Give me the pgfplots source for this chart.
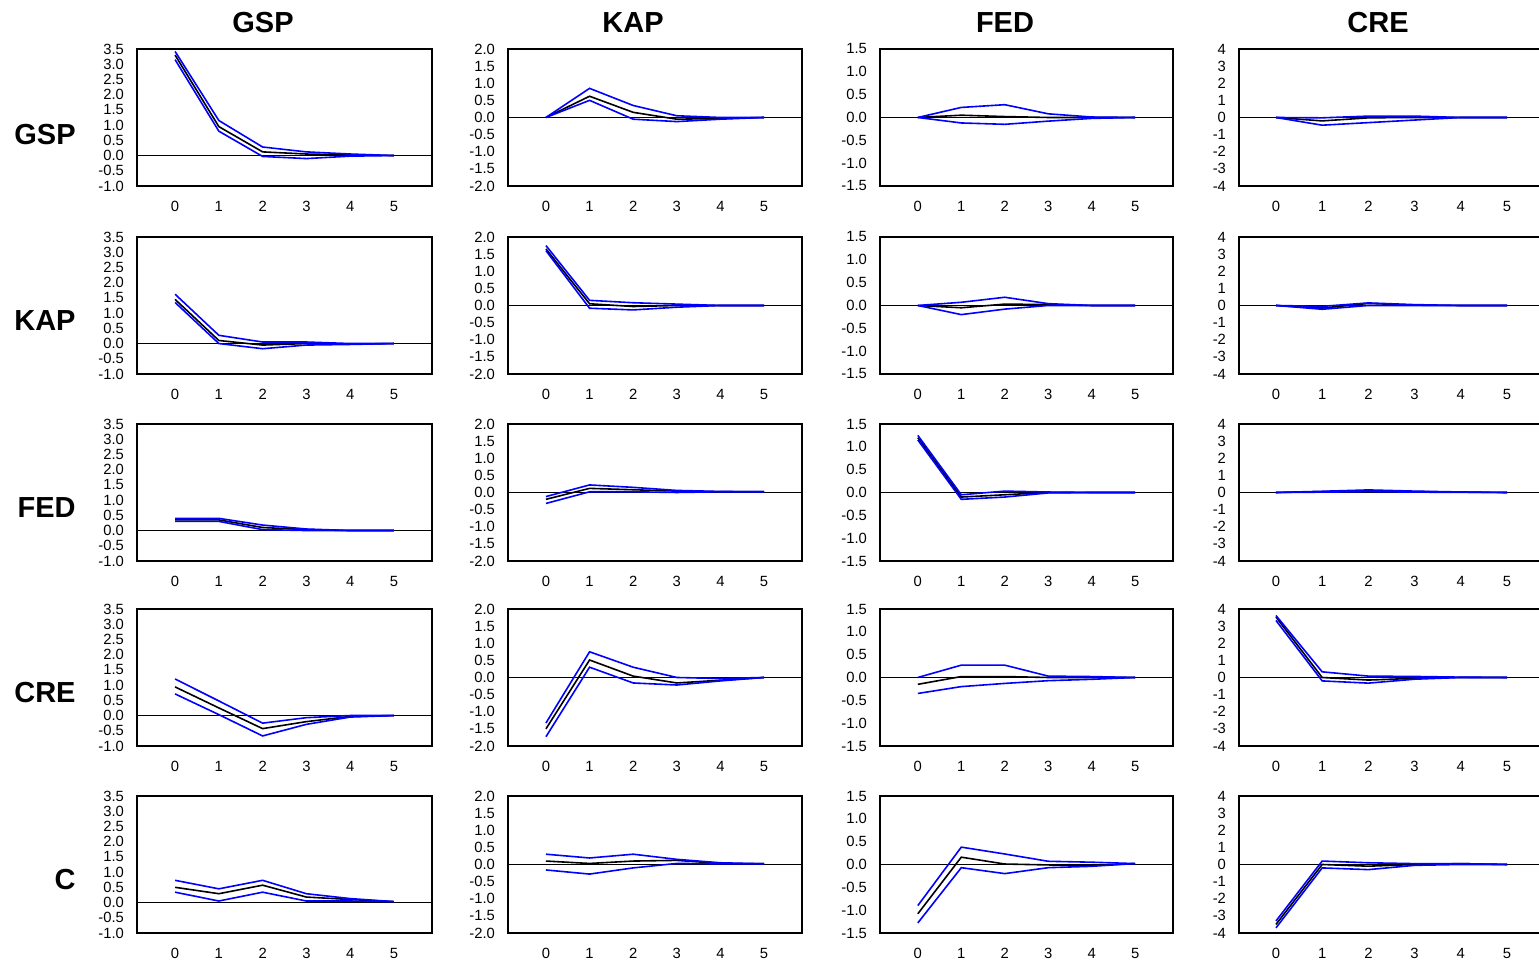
\documentclass[border=0pt]{standalone}
\usepackage{pgfplots}
\pgfplotsset{compat=1.18}
\usepackage{fontspec}
\setmainfont{Liberation Sans}
\pgfplotsset{
 irf/.style={scale only axis, anchor=north west, height=68.5pt,
   xmin=-0.87, xmax=5.87, xtick={0,1,2,3,4,5},
   major tick length=0pt, axis line style={line width=0.85pt},
   tick label style={font=\fontsize{7.4}{8}\selectfont},
   /pgf/number format/assume math mode=true,
   xticklabel style={yshift=-4pt}, yticklabel style={xshift=-3pt},
   clip=true,
   every axis plot/.append style={line width=0.8pt, mark=none}},
 c1/.style={at={(68.5pt,#1)}, width=147.5pt, ymin=-1, ymax=3.5,
   ytick={-1,-0.5,0,0.5,1,1.5,2,2.5,3,3.5},
   yticklabel style={/pgf/number format/.cd, fixed, fixed zerofill, precision=1}},
 c2/.style={at={(254pt,#1)}, width=147pt, ymin=-2, ymax=2,
   ytick={-2,-1.5,-1,-0.5,0,0.5,1,1.5,2},
   yticklabel style={/pgf/number format/.cd, fixed, fixed zerofill, precision=1}},
 c3/.style={at={(440pt,#1)}, width=146.5pt, ymin=-1.5, ymax=1.5,
   ytick={-1.5,-1,-0.5,0,0.5,1,1.5},
   yticklabel style={/pgf/number format/.cd, fixed, fixed zerofill, precision=1}},
 c4/.style={at={(619.5pt,#1)}, width=152.5pt, xmin=-0.8, xmax=5.8, ymin=-4, ymax=4,
   ytick={-4,-3,-2,-1,0,1,2,3,4}},
}
\newcommand\zl{\addplot[black] coordinates {(-1,0) (7,0)};}
\begin{document}
\begin{tikzpicture}
\useasboundingbox (0,0) rectangle (769.5pt,480.5pt);
% column titles
\foreach \t/\x in {GSP/131.5,KAP/316.5,FED/502.5,CRE/689}
  \node[font=\bfseries\fontsize{14.5}{16}\selectfont, inner sep=0] at (\x pt,469pt) {\t};
% row labels
\foreach \t/\y in {GSP/413,KAP/320,FED/226.5,CRE/134,C/40.5}
  \node[font=\bfseries\fontsize{14.5}{16}\selectfont, anchor=east, inner sep=0] at (38pt,\y pt) {\t};

% ---------- Row 1 ----------
\begin{axis}[irf, c1=456pt]
\zl
\addplot[black] coordinates {(0,3.3)(1,0.95)(2,0.12)(3,0.05)(4,0.02)(5,0)};
\addplot[blue] coordinates {(0,3.42)(1,1.15)(2,0.28)(3,0.12)(4,0.05)(5,0)};
\addplot[blue] coordinates {(0,3.15)(1,0.8)(2,-0.03)(3,-0.1)(4,-0.02)(5,0)};
\end{axis}
\begin{axis}[irf, c2=456pt]
\zl
\addplot[black] coordinates {(0,0)(1,0.62)(2,0.15)(3,-0.05)(4,-0.03)(5,0)};
\addplot[blue] coordinates {(0,0)(1,0.85)(2,0.35)(3,0.05)(4,0)(5,0)};
\addplot[blue] coordinates {(0,0)(1,0.5)(2,-0.05)(3,-0.12)(4,-0.05)(5,0)};
\end{axis}
\begin{axis}[irf, c3=456pt]
\zl
\addplot[black] coordinates {(0,0)(1,0.05)(2,0.02)(3,0)(4,0)(5,0)};
\addplot[blue] coordinates {(0,0)(1,0.22)(2,0.28)(3,0.08)(4,0.01)(5,0)};
\addplot[blue] coordinates {(0,0)(1,-0.12)(2,-0.15)(3,-0.08)(4,-0.02)(5,0)};
\end{axis}
\begin{axis}[irf, c4=456pt]
\zl
\addplot[black] coordinates {(0,0)(1,-0.2)(2,-0.02)(3,0)(4,0)(5,0)};
\addplot[blue] coordinates {(0,0)(1,-0.02)(2,0.08)(3,0.08)(4,0)(5,0)};
\addplot[blue] coordinates {(0,0)(1,-0.45)(2,-0.3)(3,-0.15)(4,0)(5,0)};
\end{axis}

% ---------- Row 2 ----------
\begin{axis}[irf, c1=362pt]
\zl
\addplot[black] coordinates {(0,1.45)(1,0.1)(2,-0.05)(3,0)(4,-0.02)(5,0)};
\addplot[blue] coordinates {(0,1.62)(1,0.27)(2,0.05)(3,0.05)(4,0)(5,0)};
\addplot[blue] coordinates {(0,1.35)(1,0)(2,-0.17)(3,-0.05)(4,-0.03)(5,0)};
\end{axis}
\begin{axis}[irf, c2=362pt]
\zl
\addplot[black] coordinates {(0,1.65)(1,0.05)(2,-0.03)(3,0)(4,0)(5,0)};
\addplot[blue] coordinates {(0,1.75)(1,0.15)(2,0.08)(3,0.04)(4,0)(5,0)};
\addplot[blue] coordinates {(0,1.6)(1,-0.08)(2,-0.13)(3,-0.05)(4,0)(5,0)};
\end{axis}
\begin{axis}[irf, c3=362pt]
\zl
\addplot[black] coordinates {(0,0)(1,-0.05)(2,0.03)(3,0.02)(4,0)(5,0)};
\addplot[blue] coordinates {(0,0)(1,0.07)(2,0.18)(3,0.04)(4,0)(5,0)};
\addplot[blue] coordinates {(0,0)(1,-0.2)(2,-0.08)(3,0)(4,0)(5,0)};
\end{axis}
\begin{axis}[irf, c4=362pt]
\zl
\addplot[black] coordinates {(0,0)(1,-0.15)(2,0.12)(3,0.02)(4,0)(5,0)};
\addplot[blue] coordinates {(0,0)(1,-0.05)(2,0.15)(3,0.05)(4,0)(5,0)};
\addplot[blue] coordinates {(0,0)(1,-0.22)(2,0)(3,0)(4,0)(5,0)};
\end{axis}

% ---------- Row 3 ----------
\begin{axis}[irf, c1=268.5pt]
\zl
\addplot[black] coordinates {(0,0.35)(1,0.35)(2,0.1)(3,0.03)(4,0)(5,0)};
\addplot[blue] coordinates {(0,0.4)(1,0.4)(2,0.18)(3,0.05)(4,0)(5,0)};
\addplot[blue] coordinates {(0,0.3)(1,0.3)(2,0.03)(3,0)(4,0)(5,0)};
\end{axis}
\begin{axis}[irf, c2=268.5pt]
\zl
\addplot[black] coordinates {(0,-0.2)(1,0.12)(2,0.08)(3,0.04)(4,0.02)(5,0.02)};
\addplot[blue] coordinates {(0,-0.12)(1,0.22)(2,0.15)(3,0.06)(4,0.03)(5,0.02)};
\addplot[blue] coordinates {(0,-0.32)(1,0.02)(2,0.02)(3,0)(4,0.02)(5,0.02)};
\end{axis}
\begin{axis}[irf, c3=268.5pt]
\zl
\addplot[black] coordinates {(0,1.2)(1,-0.1)(2,-0.05)(3,0)(4,0)(5,0)};
\addplot[blue] coordinates {(0,1.25)(1,-0.05)(2,0.03)(3,0.01)(4,0)(5,0)};
\addplot[blue] coordinates {(0,1.15)(1,-0.15)(2,-0.1)(3,-0.01)(4,0)(5,0)};
\end{axis}
\begin{axis}[irf, c4=268.5pt]
\zl
\addplot[black] coordinates {(0,0)(1,0.05)(2,0.1)(3,0.05)(4,0.02)(5,0)};
\addplot[blue] coordinates {(0,0)(1,0.07)(2,0.15)(3,0.08)(4,0.03)(5,0)};
\addplot[blue] coordinates {(0,0)(1,0.02)(2,0.05)(3,0.02)(4,0.01)(5,0)};
\end{axis}

% ---------- Row 4 ----------
\begin{axis}[irf, c1=176pt]
\zl
\addplot[black] coordinates {(0,0.94)(1,0.25)(2,-0.43)(3,-0.2)(4,-0.03)(5,0)};
\addplot[blue] coordinates {(0,1.2)(1,0.48)(2,-0.25)(3,-0.07)(4,0)(5,0)};
\addplot[blue] coordinates {(0,0.71)(1,0.03)(2,-0.67)(3,-0.29)(4,-0.05)(5,0)};
\end{axis}
\begin{axis}[irf, c2=176pt]
\zl
\addplot[black] coordinates {(0,-1.5)(1,0.51)(2,0.04)(3,-0.16)(4,-0.08)(5,0)};
\addplot[blue] coordinates {(0,-1.33)(1,0.75)(2,0.3)(3,0)(4,-0.03)(5,0)};
\addplot[blue] coordinates {(0,-1.73)(1,0.3)(2,-0.16)(3,-0.22)(4,-0.1)(5,0)};
\end{axis}
\begin{axis}[irf, c3=176pt]
\zl
\addplot[black] coordinates {(0,-0.15)(1,0.02)(2,0.02)(3,0)(4,0)(5,0)};
\addplot[blue] coordinates {(0,0)(1,0.27)(2,0.27)(3,0.03)(4,0.02)(5,0)};
\addplot[blue] coordinates {(0,-0.35)(1,-0.2)(2,-0.13)(3,-0.07)(4,-0.04)(5,0)};
\end{axis}
\begin{axis}[irf, c4=176pt]
\zl
\addplot[black] coordinates {(0,3.53)(1,0)(2,-0.15)(3,-0.05)(4,0)(5,0)};
\addplot[blue] coordinates {(0,3.62)(1,0.33)(2,0.08)(3,0.06)(4,0.02)(5,0)};
\addplot[blue] coordinates {(0,3.33)(1,-0.2)(2,-0.33)(3,-0.1)(4,0)(5,0)};
\end{axis}

% ---------- Row 5 ----------
\begin{axis}[irf, c1=82.5pt]
\zl
\addplot[black] coordinates {(0,0.5)(1,0.29)(2,0.57)(3,0.18)(4,0.1)(5,0.03)};
\addplot[blue] coordinates {(0,0.73)(1,0.45)(2,0.73)(3,0.29)(4,0.13)(5,0.03)};
\addplot[blue] coordinates {(0,0.34)(1,0.05)(2,0.34)(3,0.05)(4,0.05)(5,0.03)};
\end{axis}
\begin{axis}[irf, c2=82.5pt]
\zl
\addplot[black] coordinates {(0,0.1)(1,0.03)(2,0.1)(3,0.12)(4,0.03)(5,0.02)};
\addplot[blue] coordinates {(0,0.3)(1,0.19)(2,0.3)(3,0.15)(4,0.05)(5,0.02)};
\addplot[blue] coordinates {(0,-0.16)(1,-0.28)(2,-0.1)(3,0.03)(4,0.02)(5,0.02)};
\end{axis}
\begin{axis}[irf, c3=82.5pt]
\zl
\addplot[black] coordinates {(0,-1.08)(1,0.16)(2,0.01)(3,-0.01)(4,-0.02)(5,0.02)};
\addplot[blue] coordinates {(0,-0.9)(1,0.38)(2,0.23)(3,0.07)(4,0.05)(5,0.02)};
\addplot[blue] coordinates {(0,-1.28)(1,-0.07)(2,-0.2)(3,-0.07)(4,-0.04)(5,0.02)};
\end{axis}
\begin{axis}[irf, c4=82.5pt]
\zl
\addplot[black] coordinates {(0,-3.5)(1,0)(2,-0.1)(3,0)(4,0.05)(5,0)};
\addplot[blue] coordinates {(0,-3.3)(1,0.2)(2,0.1)(3,0.05)(4,0.05)(5,0)};
\addplot[blue] coordinates {(0,-3.7)(1,-0.2)(2,-0.3)(3,-0.05)(4,0)(5,0)};
\end{axis}
\end{tikzpicture}
\end{document}
